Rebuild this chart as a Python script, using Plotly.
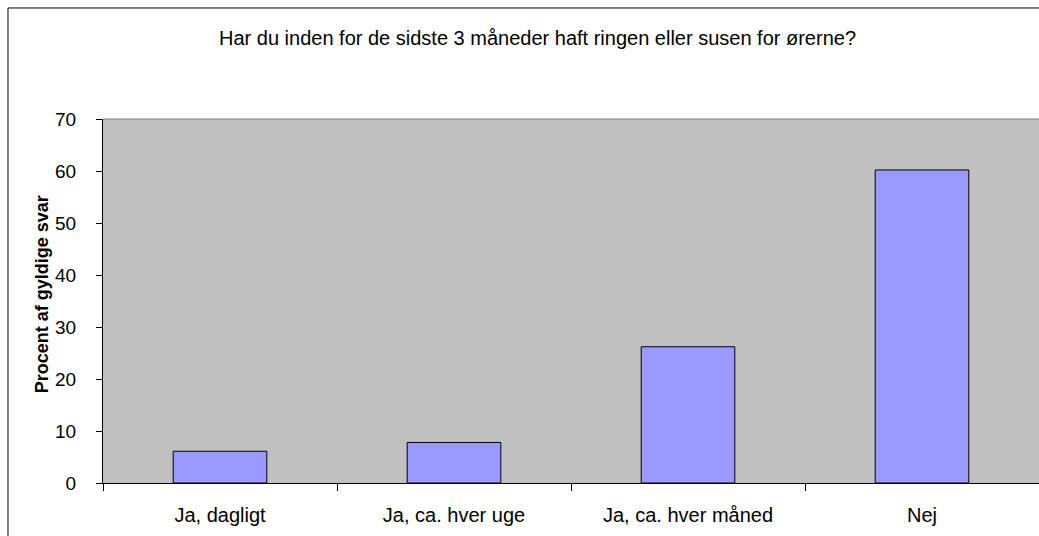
import plotly.graph_objects as go

# Data
categories = ['Ja, dagligt', 'Ja, ca. hver uge', 'Ja, ca. hver måned', 'Nej']
percent = [6.1, 7.8, 26.2, 60.2]
y_ticks = [0, 10, 20, 30, 40, 50, 60, 70]

title_text = 'Har du inden for de sidste 3 måneder haft ringen eller susen for ørerne?'
y_title = 'Procent af gyldige svar'

FONT = 'Liberation Sans, Arial, sans-serif'

fig = go.Figure(go.Bar(
    x=categories, y=percent,
    marker=dict(color='#9999FF', line=dict(color='#000000', width=1)),
    width=0.4,
    hoverinfo='x+y',
))

frame = dict(color='#000000', width=1)

fig.update_layout(
    width=1039, height=536,
    margin=dict(l=103, r=0, t=119, b=53),
    paper_bgcolor='white',
    plot_bgcolor='#C0C0C0',
    font=dict(family=FONT, size=19, color='#000000'),
    showlegend=False,
    annotations=[
        dict(text=title_text, xref='paper', yref='paper', x=0.4637, y=1.2237,
             xanchor='center', yanchor='middle', showarrow=False,
             font=dict(size=20)),
        dict(text='<b>' + y_title + '</b>', xref='paper', yref='paper',
             x=-0.065, y=0.519, xanchor='center', yanchor='middle',
             textangle=-90, showarrow=False, font=dict(size=18)),
    ],
    shapes=[
        # outer chart frame: only its left and top edges are in view
        dict(type='line', xref='paper', yref='paper', x0=-0.1015, x1=-0.1015,
             y0=-0.2, y1=1.305, line=frame),
        dict(type='line', xref='paper', yref='paper', x0=-0.1015, x1=1.01,
             y0=1.305, y1=1.305, line=frame),
        # top border of the plot area
        dict(type='line', xref='paper', yref='paper', x0=0, x1=1, y0=1, y1=1,
             line=dict(color='#808080', width=1)),
    ],
)

fig.update_xaxes(
    type='category', showline=True, linecolor='#000000', linewidth=1,
    ticks='outside', tickson='boundaries', ticklen=7, tickcolor='#000000',
    ticklabelstandoff=14, tickfont=dict(size=20),
    showgrid=False, zeroline=False,
)
fig.update_yaxes(
    range=[0, 70], tickvals=y_ticks, showline=True, linecolor='#000000',
    linewidth=1, ticks='outside', ticklen=6, tickcolor='#000000',
    ticklabelstandoff=16, showgrid=False, zeroline=False,
)

# drop the page's default margin and scrollbars so the figure sits at (0, 0)
page_fix = (
    "document.documentElement.style.overflow='hidden';"
    "document.body.style.margin='0';"
    "document.body.style.overflow='hidden';"
)
fig.write_html('out.html', config={'displayModeBar': False}, post_script=page_fix)
